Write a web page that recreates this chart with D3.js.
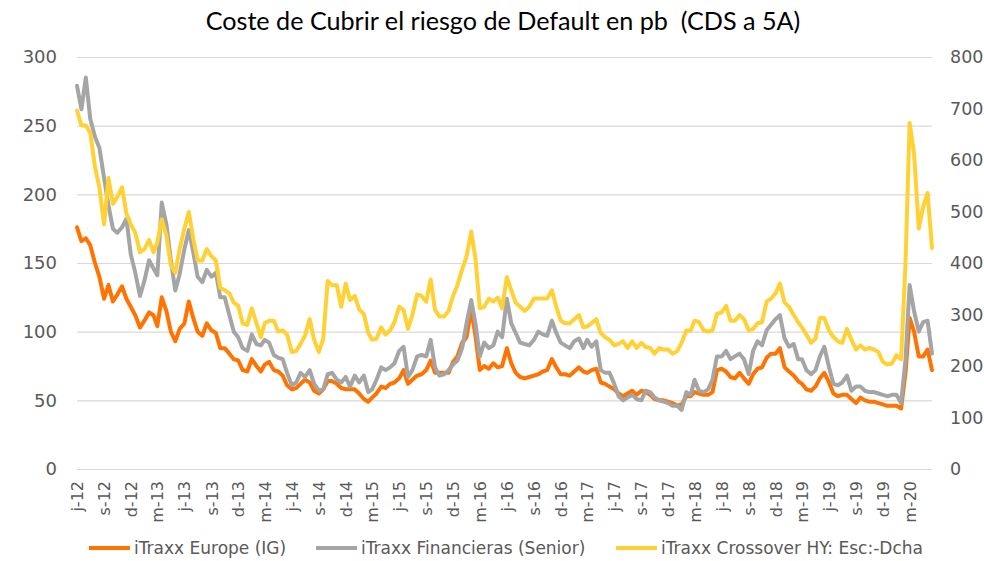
<!DOCTYPE html>
<html>
<head>
<meta charset="utf-8">
<script src="https://cdn.jsdelivr.net/npm/d3@7/dist/d3.min.js"></script>
<style>
  body { margin: 0; background: #fff; }
  svg { display: block; }
</style>
</head>
<body>
<div id="main-container"></div>
<script>
// Datos quincenales (dia 1 y 16 de cada mes) desde jun-2012 hasta may-2020, en pb
const itraxxEurope = [
  176,166,168,163,150,140,124,134,122,127,133,124,118,112,103,108,114,112,104,125,115,100,93,102,106,122,110,100,97,106,101,99,88,
  88,84,80,79,72,71,80,75,71,76,78,72,71,68,61,58,59,62,65,63,57,55,58,64,64,62,59,58,58,58,55,
  51,49,52,55,60,59,62,63,66,72,62,65,68,69,72,79,70,70,70,70,78,82,92,96,116,96,72,75,73,77,74,
  75,88,77,70,67,66,67,68,69,71,72,80,74,69,69,68,71,74,71,70,72,73,63,62,60,58,55,53,55,57,54,
  57,56,54,51,50,50,49,48,46,47,53,53,56,55,54,54,56,72,73,71,67,66,70,66,62,69,73,74,81,84,84,88,
  74,71,68,64,62,58,57,60,66,70,63,55,53,54,54,51,48,52,50,49,49,48,47,46,46,46,44,70,110,100,82,82,87,72
];
const itraxxFinancieras = [
  279,262,285,255,242,234,212,192,175,172,176,182,156,143,126,137,152,146,141,194,178,152,130,142,160,174,158,140,136,145,140,143,125,
  125,112,100,96,88,86,98,91,90,94,92,83,81,80,70,61,63,70,67,72,62,57,58,69,70,65,63,67,60,68,63,
  68,56,58,65,74,72,74,77,86,89,67,72,82,83,82,94,74,68,69,72,76,79,88,106,123,105,82,92,88,90,100,
  96,124,106,99,92,91,90,94,100,98,97,108,99,92,90,88,93,95,88,94,89,93,72,70,70,62,53,50,52,54,51,
  50,57,56,52,50,49,48,46,46,43,56,54,65,57,56,58,65,82,82,86,80,82,84,80,69,86,93,90,101,105,109,112,
  95,89,91,80,80,72,69,72,82,89,74,62,61,63,68,57,60,60,57,56,56,55,54,53,54,54,48,80,134,115,100,107,108,84
];
// Crossover va en el eje derecho
const itraxxCrossover = [
  696,667,667,653,587,547,475,565,515,528,547,496,475,459,421,427,445,421,440,485,453,395,381,427,467,499,448,405,405,427,413,405,352,
  347,341,323,317,283,280,312,283,256,283,288,288,267,269,261,227,229,243,259,291,251,227,253,365,357,357,315,360,328,336,310,
  301,264,251,253,275,261,269,285,315,309,272,299,339,336,325,368,309,296,296,307,336,357,387,413,461,405,312,315,331,325,333,
  312,373,347,323,315,307,315,331,331,331,331,347,315,288,283,283,291,299,275,277,283,291,264,256,251,240,243,248,235,248,235,
  245,237,235,224,235,232,232,224,229,245,269,269,288,285,269,267,269,301,304,317,288,288,299,291,269,272,283,285,325,331,341,360,
  323,315,299,285,275,261,245,253,293,293,269,256,248,245,272,251,232,240,232,235,232,227,208,203,205,221,213,400,672,613,467,509,536,429
];

const ticksIzq = [0, 50, 100, 150, 200, 250, 300];
const ticksDcha = [0, 100, 200, 300, 400, 500, 600, 700, 800];
const inicialesMes = ["e", "f", "m", "a", "m", "j", "j", "a", "s", "o", "n", "d"];
const nombresSeries = ["iTraxx Europe (IG)", "iTraxx Financieras (Senior)", "iTraxx Crossover HY: Esc:-Dcha"];
const coloresSeries = ["#FF7300", "#A5A5A5", "#FFD135"];
const titulo = "Coste de Cubrir el riesgo de Default en pb  (CDS a 5A)";

const fechas = itraxxEurope.map((d, i) => new Date(2012, 5 + Math.floor(i / 2), i % 2 ? 16 : 1));
const fechasTicks = d3.timeMonth.range(new Date(2012, 5, 1), new Date(2020, 3, 1), 3);

const fuente = "'DejaVu Sans', sans-serif";
const colorTexto = "#595959";

const svg = d3.select("#main-container").append("svg")
    .attr("width", 984)
    .attr("height", 561);

const escalaX = d3.scaleTime()
    .domain([fechas[0], fechas[fechas.length - 1]])
    .range([77, 932]);
const escalaIzq = d3.scaleLinear().domain([0, 300]).range([469, 57]);
const escalaDcha = d3.scaleLinear().domain([0, 800]).range([469, 57]);

// lineas de rejilla
svg.append("g")
    .attr("transform", "translate(77,0)")
    .call(d3.axisLeft(escalaIzq).tickValues(ticksIzq).tickSize(-855).tickFormat(""))
    .call(g => g.select(".domain").remove())
    .selectAll("line")
    .attr("stroke", "#d9d9d9")
    .attr("stroke-width", 1.2);

// eje izquierdo
const ejeIzq = svg.append("g")
    .attr("transform", "translate(77,0)")
    .call(d3.axisLeft(escalaIzq).tickValues(ticksIzq).tickSize(0).tickPadding(20));
ejeIzq.select(".domain").remove();
ejeIzq.selectAll("text")
    .attr("fill", colorTexto)
    .style("font-family", fuente)
    .style("font-size", "18px");

// eje derecho (en el original se corta por el borde; aqui se deja justo dentro)
const ejeDcha = svg.append("g")
    .attr("transform", "translate(932,0)")
    .call(d3.axisRight(escalaDcha).tickValues(ticksDcha).tickSize(0).tickPadding(18));
ejeDcha.select(".domain").remove();
ejeDcha.selectAll("text")
    .attr("fill", colorTexto)
    .style("font-family", fuente)
    .style("font-size", "17.5px");

// eje x con meses rotados
const formatoMes = d => inicialesMes[d.getMonth()] + "-" + d3.timeFormat("%y")(d);
const ejeX = svg.append("g")
    .attr("transform", "translate(0,469)")
    .call(d3.axisBottom(escalaX).tickValues(fechasTicks).tickSize(0).tickFormat(formatoMes));
ejeX.select(".domain").remove();
ejeX.selectAll("text")
    .attr("fill", colorTexto)
    .attr("transform", "rotate(-90)")
    .attr("x", -12)
    .attr("y", 0)
    .attr("dy", "0.35em")
    .style("text-anchor", "end")
    .style("font-family", fuente)
    .style("font-size", "16px");

// series (la de eje derecho se pinta encima, como en Excel)
const series = [
    { valores: itraxxEurope, escala: escalaIzq },
    { valores: itraxxFinancieras, escala: escalaIzq },
    { valores: itraxxCrossover, escala: escalaDcha }
];
series.forEach((s, k) => {
    const linea = d3.line()
        .x((d, i) => escalaX(fechas[i]))
        .y(d => s.escala(d));
    svg.append("path")
        .datum(s.valores)
        .attr("d", linea)
        .attr("fill", "none")
        .attr("stroke", coloresSeries[k])
        .attr("stroke-width", 4)
        .attr("stroke-linejoin", "round")
        .attr("stroke-linecap", "round");
});

// titulo (con el doble espacio del original)
const textoTitulo = svg.append("text")
    .attr("x", 503)
    .attr("y", 30)
    .attr("text-anchor", "middle")
    .attr("fill", "#000")
    .style("white-space", "pre")
    .style("font-family", "Lato, 'Open Sans', sans-serif")
    .style("font-size", "20px")
    .text(titulo);
const anchoTitulo = textoTitulo.node().getComputedTextLength();
textoTitulo.style("font-size", (20 * 595 / anchoTitulo) + "px");

// leyenda
const posLeyenda = [89, 316, 616];
const leyenda = svg.append("g")
    .selectAll("g")
    .data(nombresSeries)
    .join("g")
    .attr("transform", (d, i) => `translate(${posLeyenda[i]},548)`);
leyenda.append("line")
    .attr("x1", 0).attr("x2", 41)
    .attr("y1", 0).attr("y2", 0)
    .attr("stroke", (d, i) => coloresSeries[i])
    .attr("stroke-width", 4);
leyenda.append("text")
    .attr("x", 45)
    .attr("y", 0)
    .attr("dy", "0.35em")
    .attr("fill", colorTexto)
    .style("font-family", fuente)
    .style("font-size", "17px")
    .text(d => d);
</script>
</body>
</html>
